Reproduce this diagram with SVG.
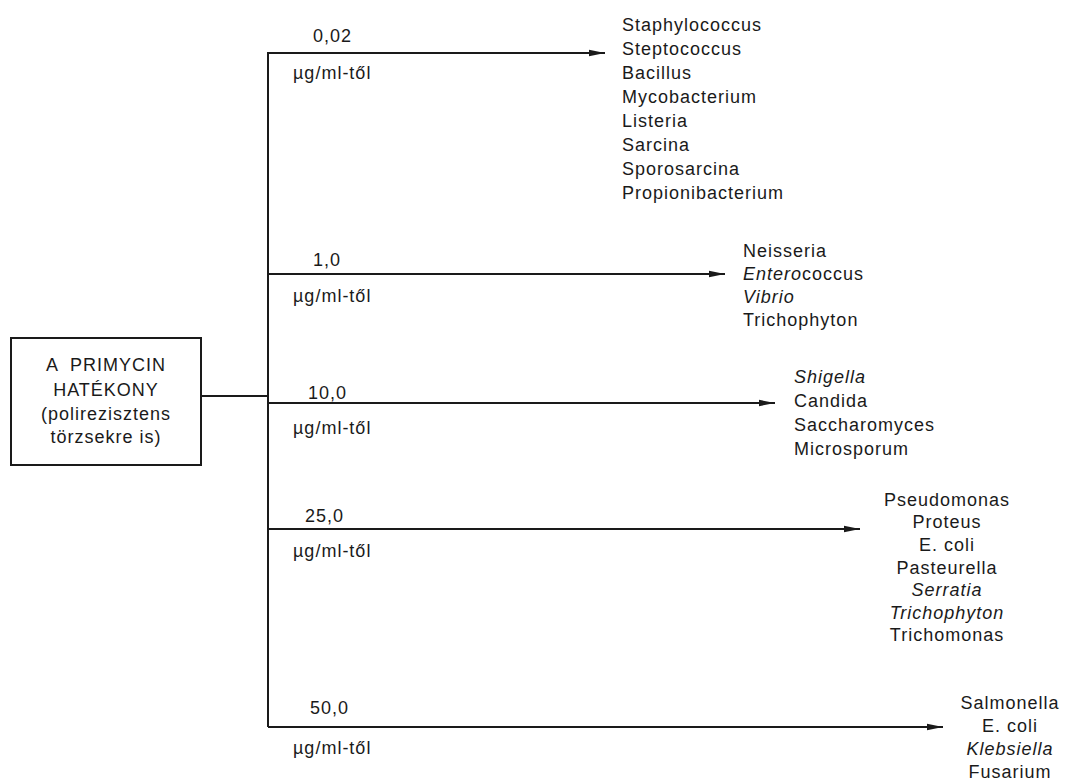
<svg xmlns="http://www.w3.org/2000/svg" width="1067" height="780" viewBox="0 0 1067 780">
<style>
text{font-family:"Liberation Sans",Arial,sans-serif;font-size:18px;letter-spacing:1px;fill:#1a1a1a}
.i{font-style:italic}
.m{text-anchor:middle}
.ln{stroke:#1a1a1a;stroke-width:2;fill:none}
</style>
<defs>
<marker id="ah" viewBox="0 0 16 8" refX="16" refY="4" markerWidth="16" markerHeight="8" markerUnits="userSpaceOnUse" orient="auto">
<path d="M0,0.8 L16,4 L0,7.2 Z" fill="#1a1a1a"/>
</marker>
</defs>
<rect width="1067" height="780" fill="#ffffff"/>
<g id="source">
<rect x="11" y="338" width="190" height="127" class="ln"/>
<text class="m" x="106" y="371" xml:space="preserve">A  PRIMYCIN</text>
<text class="m" x="106" y="396">HATÉKONY</text>
<text class="m" x="106" y="420">(polirezisztens</text>
<text class="m" x="106" y="443">törzsekre is)</text>
</g>
<g id="connectors">
<path class="ln" d="M201,396 H268"/>
<path class="ln" d="M268,52 V727"/>
<path class="ln" d="M268,53 H605" marker-end="url(#ah)"/>
<path class="ln" d="M268,274 H725" marker-end="url(#ah)"/>
<path class="ln" d="M268,403 H775" marker-end="url(#ah)"/>
<path class="ln" d="M268,529 H860" marker-end="url(#ah)"/>
<path class="ln" d="M268,727 H943" marker-end="url(#ah)"/>
</g>
<g id="labels">
<text x="313" y="42">0,02</text>
<text x="293" y="79">µg/ml-től</text>
<text x="313" y="266">1,0</text>
<text x="293" y="302">µg/ml-től</text>
<text x="308" y="399">10,0</text>
<text x="293" y="434">µg/ml-től</text>
<text x="305" y="522">25,0</text>
<text x="293" y="557">µg/ml-től</text>
<text x="310" y="714">50,0</text>
<text x="293" y="754">µg/ml-től</text>
</g>
<g id="group1">
<text x="622" y="31">Staphylococcus</text>
<text x="622" y="55">Steptococcus</text>
<text x="622" y="79">Bacillus</text>
<text x="622" y="103">Mycobacterium</text>
<text x="622" y="127">Listeria</text>
<text x="622" y="151">Sarcina</text>
<text x="622" y="175">Sporosarcina</text>
<text x="622" y="199">Propionibacterium</text>
</g>
<g id="group2">
<text x="743" y="257">Neisseria</text>
<text x="743" y="280"><tspan class="i">Entero</tspan>coccus</text>
<text x="743" y="303" class="i">Vibrio</text>
<text x="743" y="326">Trichophyton</text>
</g>
<g id="group3">
<text x="794" y="383" class="i">Shigella</text>
<text x="794" y="407">Candida</text>
<text x="794" y="431">Saccharomyces</text>
<text x="794" y="455">Microsporum</text>
</g>
<g id="group4">
<text class="m" x="947" y="506">Pseudomonas</text>
<text class="m" x="947" y="528">Proteus</text>
<text class="m" x="947" y="551">E. coli</text>
<text class="m" x="947" y="574">Pasteurella</text>
<text class="m i" x="947" y="596">Serratia</text>
<text class="m i" x="947" y="619">Trichophyton</text>
<text class="m" x="947" y="641">Trichomonas</text>
</g>
<g id="group5">
<text class="m" x="1010" y="709">Salmonella</text>
<text class="m" x="1010" y="732">E. coli</text>
<text class="m i" x="1010" y="755">Klebsiella</text>
<text class="m" x="1010" y="778">Fusarium</text>
</g>
</svg>
